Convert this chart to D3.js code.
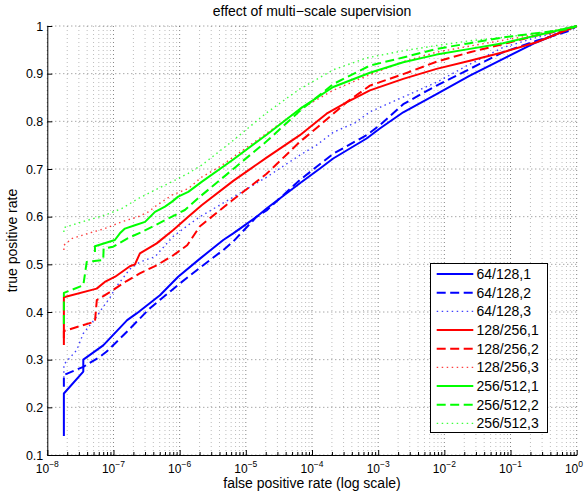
<!DOCTYPE html>
<html><head><meta charset="utf-8">
<script src="https://cdn.jsdelivr.net/npm/d3@7"></script>
<style>
body{margin:0;background:#fff}
svg{display:block}
text{font-family:"Liberation Sans",Arial,Helvetica,sans-serif;fill:#000}
</style>
</head><body><svg id="c" width="584" height="500"></svg>
<script>
// ---- data: [false positive rate, true positive rate] ----
const s64_128_1 = [[1.78e-8,0.14],[1.78e-8,0.229],[3.5e-8,0.275],[3.5e-8,0.30],[7.0e-8,0.33],[1.61e-7,0.383],[2.24e-7,0.397],[5.04e-7,0.435],[9.5e-7,0.474],[2.03e-6,0.512],[4.56e-6,0.551],[6.46e-6,0.565],[1.46e-5,0.60],[2.06e-5,0.617],[6.56e-5,0.670],[1.32e-4,0.701],[2.09e-4,0.722],[6.68e-4,0.764],[1.06e-3,0.785],[2.39e-3,0.819],[7.62e-3,0.857],[0.0243,0.896],[0.0773,0.931],[0.247,0.966],[1,1]];
const s64_128_2 = [[1.78e-8,0.243],[1.78e-8,0.268],[3.5e-8,0.285],[6.25e-8,0.306],[7.9e-8,0.317],[1.58e-7,0.358],[3.56e-7,0.408],[1.01e-6,0.46],[2.03e-6,0.493],[4.56e-6,0.53],[6.46e-6,0.548],[1.46e-5,0.60],[2.06e-5,0.613],[6.56e-5,0.677],[2.09e-4,0.732],[6.68e-4,0.771],[1.06e-3,0.792],[2.39e-3,0.836],[7.62e-3,0.875],[0.0243,0.910],[0.0773,0.945],[0.247,0.969],[0.789,0.990],[1,1]];
const s64_128_3 = [[1.78e-8,0.262],[1.78e-8,0.29],[2.78e-8,0.32],[3.5e-8,0.355],[5.57e-8,0.39],[7.0e-8,0.411],[8.85e-8,0.43],[1.1e-7,0.453],[1.77e-7,0.49],[2.51e-7,0.505],[4.24e-7,0.516],[7.9e-7,0.558],[1.43e-6,0.585],[2.03e-6,0.6],[6.46e-6,0.641],[2.06e-5,0.683],[6.56e-5,0.729],[1.17e-4,0.75],[2.09e-4,0.777],[4.5e-4,0.797],[7.5e-4,0.82],[2.39e-3,0.851],[7.62e-3,0.882],[0.0243,0.920],[0.0773,0.955],[0.247,0.976],[0.789,0.993],[1,1]];
const s128_256_1 = [[1.78e-8,0.331],[1.78e-8,0.431],[5.57e-8,0.449],[7.4e-8,0.463],[1.06e-7,0.474],[1.77e-7,0.496],[2.11e-7,0.5],[2.51e-7,0.523],[4.5e-7,0.544],[8e-7,0.572],[1.35e-6,0.6],[2.15e-6,0.624],[6.46e-6,0.675],[2.06e-5,0.724],[6.56e-5,0.771],[1.66e-4,0.816],[3.33e-4,0.84],[7.5e-4,0.865],[2.39e-3,0.889],[7.62e-3,0.910],[0.0243,0.927],[0.0773,0.945],[0.247,0.966],[1,1]];
const s128_256_2 = [[1.78e-8,0.345],[1.78e-8,0.36],[5.25e-8,0.38],[5.6e-8,0.425],[8.85e-8,0.442],[1.58e-7,0.465],[2.5e-7,0.481],[4.5e-7,0.498],[8e-7,0.519],[1.3e-6,0.54],[2.03e-6,0.58],[6.46e-6,0.636],[2.06e-5,0.69],[6.56e-5,0.757],[1.32e-4,0.792],[3.33e-4,0.84],[7.5e-4,0.875],[2.39e-3,0.899],[7.62e-3,0.925],[0.0243,0.945],[0.0773,0.962],[0.247,0.980],[0.789,0.994],[1,1]];
const s128_256_3 = [[1.78e-8,0.53],[1.78e-8,0.54],[2.34e-8,0.554],[4.16e-8,0.565],[7.4e-8,0.575],[1.32e-7,0.589],[2.37e-7,0.6],[3.36e-7,0.61],[4.24e-7,0.621],[7.6e-7,0.645],[1.35e-6,0.659],[2.1e-6,0.682],[4.06e-6,0.705],[6.46e-6,0.725],[2.06e-5,0.775],[6.56e-5,0.825],[2.09e-4,0.865],[7.5e-4,0.898],[2.39e-3,0.925],[7.62e-3,0.945],[0.0243,0.958],[0.0773,0.970],[0.247,0.982],[1,1]];
const s256_512_1 = [[5.25e-8,0.526],[5.25e-8,0.538],[1.05e-7,0.551],[1.25e-7,0.565],[1.49e-7,0.575],[2.11e-7,0.582],[3.0e-7,0.589],[4.24e-7,0.61],[6.0e-7,0.621],[7.6e-7,0.631],[9.5e-7,0.642],[1.35e-6,0.652],[2.15e-6,0.673],[6.46e-6,0.72],[2.06e-5,0.772],[6.56e-5,0.826],[2.09e-4,0.872],[7.5e-4,0.902],[2.39e-3,0.924],[7.62e-3,0.940],[0.0243,0.952],[0.0773,0.964],[0.247,0.980],[1,1]];
const s256_512_2 = [[1.78e-8,0.375],[1.78e-8,0.44],[3.5e-8,0.456],[3.94e-8,0.505],[7.0e-8,0.509],[7.1e-8,0.533],[9.9e-8,0.537],[1.66e-7,0.555],[2.6e-7,0.567],[4.4e-7,0.583],[7.66e-7,0.6],[1.2e-6,0.614],[2.03e-6,0.642],[6.46e-6,0.70],[2.06e-5,0.758],[6.56e-5,0.822],[2.09e-4,0.878],[7.5e-4,0.917],[2.39e-3,0.934],[7.62e-3,0.952],[0.0243,0.964],[0.0773,0.976],[0.247,0.985],[0.789,0.994],[1,1]];
const s256_512_3 = [[1.78e-8,0.568],[1.78e-8,0.577],[4.16e-8,0.593],[7.4e-8,0.603],[1.33e-7,0.617],[2.37e-7,0.638],[4.24e-7,0.656],[7.6e-7,0.673],[1.35e-6,0.691],[2.15e-6,0.708],[6.46e-6,0.76],[2.06e-5,0.818],[6.56e-5,0.868],[2.09e-4,0.908],[6.68e-4,0.933],[2.39e-3,0.948],[7.62e-3,0.959],[0.0243,0.969],[0.0773,0.976],[0.33,0.987],[1,1]];

const seriesNames = ["64/128,1","64/128,2","64/128,3","128/256,1","128/256,2","128/256,3","256/512,1","256/512,2","256/512,3"];
const seriesData = [s64_128_1,s64_128_2,s64_128_3,s128_256_1,s128_256_2,s128_256_3,s256_512_1,s256_512_2,s256_512_3];
const seriesColors = ["#0000ff","#0000ff","#0000ff","#ff0000","#ff0000","#ff0000","#00ff00","#00ff00","#00ff00"];
const seriesStyles = ["solid","dashed","dotted","solid","dashed","dotted","solid","dashed","dotted"];

const xTickExponents = ["−8","−7","−6","−5","−4","−3","−2","−1","0"];
const xTickValues = [1e-8,1e-7,1e-6,1e-5,1e-4,1e-3,1e-2,1e-1,1];
const yTickValues = [0.1,0.2,0.3,0.4,0.5,0.6,0.7,0.8,0.9,1];
const yTickLabels = ["0.1","0.2","0.3","0.4","0.5","0.6","0.7","0.8","0.9","1"];
const titleText = "effect of multi−scale supervision";
const xLabelText = "false positive rate (log scale)";
const yLabelText = "true positive rate";

// ---- drawing ----
const svg = d3.select("#c");
const L = 47.3, R = 576.7, T = 26, B = 455;
const x = d3.scaleLog().domain([1e-8, 1]).range([L, R]);
const y = d3.scaleLinear().domain([0.1, 1]).range([B, T]);

svg.append("rect").attr("width",584).attr("height",500).attr("fill","#fff");

const allX = x.ticks();
const minorX = allX.filter(v => !xTickValues.some(m => Math.abs(Math.log10(v) - Math.log10(m)) < 1e-6));

const grid = svg.append("g");
grid.selectAll("line.mx").data(minorX).join("line")
  .attr("x1", d => x(d)).attr("x2", d => x(d)).attr("y1", B).attr("y2", T)
  .attr("stroke", "#000").attr("stroke-opacity", 0.45).attr("stroke-width", 0.6)
  .attr("stroke-dasharray", "1,3");
grid.selectAll("line.Mx").data(xTickValues).join("line")
  .attr("x1", d => x(d)).attr("x2", d => x(d)).attr("y1", B).attr("y2", T)
  .attr("stroke", "#000").attr("stroke-opacity", 0.7).attr("stroke-width", 0.7)
  .attr("stroke-dasharray", "1,3");
grid.selectAll("line.My").data(yTickValues).join("line")
  .attr("x1", L).attr("x2", R).attr("y1", d => y(d)).attr("y2", d => y(d))
  .attr("stroke", "#000").attr("stroke-opacity", 0.7).attr("stroke-width", 0.7)
  .attr("stroke-dasharray", "1,3");

function dash(style){
  if (style === "dashed") return "9,4.5";
  if (style === "dotted") return "1.5,3.5";
  return null;
}

const line = d3.line().x(d => x(d[0])).y(d => y(d[1]));
const lines = svg.append("g");
seriesData.forEach((data, i) => {
  lines.append("path").datum(data)
    .attr("d", line)
    .attr("fill", "none")
    .attr("stroke", seriesColors[i])
    .attr("stroke-width", seriesStyles[i] === "dotted" ? 1.4 : 2)
    .attr("stroke-opacity", seriesStyles[i] === "dotted" ? 0.75 : 1)
    .attr("stroke-linejoin", "round")
    .attr("stroke-dasharray", dash(seriesStyles[i]));
});

// axes
const xAxisMajor = d3.axisBottom(x).tickValues(xTickValues).tickSizeInner(-5).tickSizeOuter(0).tickFormat("");
const xAxisMinor = d3.axisBottom(x).tickValues(minorX).tickSizeInner(-3).tickSizeOuter(0).tickFormat("");
const gx = svg.append("g").attr("transform", `translate(0,${B})`).call(xAxisMajor);
svg.append("g").attr("transform", `translate(0,${B})`).call(xAxisMinor).select(".domain").remove();
gx.select(".domain").attr("stroke","#000").attr("stroke-width",1);

const yAxis = d3.axisLeft(y).tickValues(yTickValues).tickSizeInner(-5).tickSizeOuter(0)
  .tickPadding(4).tickFormat((d, i) => yTickLabels[i]);
const gy = svg.append("g").attr("transform", `translate(${L},0)`).call(yAxis);
gy.selectAll("text").attr("font-size", 12.5).attr("font-family", '"Liberation Sans",Arial,sans-serif');
svg.selectAll(".tick line").attr("stroke","#000");

// x tick labels with superscripts
const xl = svg.append("g");
xTickValues.forEach((v, i) => {
  const last = i === xTickValues.length - 1;
  const t = xl.append("text")
    .attr("x", last ? 583 : x(v)).attr("y", 472.5)
    .attr("text-anchor", last ? "end" : "middle").attr("font-size", 12);
  t.append("tspan").text("10");
  t.append("tspan").attr("dy", -6).attr("font-size", 8.5).text(xTickExponents[i]);
});

// titles
svg.append("text").attr("x", (L + R) / 2).attr("y", 16).attr("text-anchor", "middle")
  .attr("font-size", 14).text(titleText);
svg.append("text").attr("x", (L + R) / 2).attr("y", 487.5).attr("text-anchor", "middle")
  .attr("font-size", 14).text(xLabelText);
svg.append("text").attr("transform", `translate(17,${(T + B) / 2}) rotate(-90)`).attr("text-anchor", "middle")
  .attr("font-size", 14).text(yLabelText);

// legend
const lg = svg.append("g");
lg.append("rect").attr("x", 430.5).attr("y", 263.5).attr("width", 117).attr("height", 169)
  .attr("fill", "#fff").attr("stroke", "#000").attr("stroke-width", 1);
seriesNames.forEach((name, i) => {
  const yy = 274 + i * 18.67;
  lg.append("line").attr("x1", 436.7).attr("x2", 473.3).attr("y1", yy).attr("y2", yy)
    .attr("stroke", seriesColors[i])
    .attr("stroke-width", seriesStyles[i] === "dotted" ? 1.4 : 2)
    .attr("stroke-opacity", seriesStyles[i] === "dotted" ? 0.75 : 1)
    .attr("stroke-dasharray", dash(seriesStyles[i]));
  lg.append("text").attr("x", 476.5).attr("y", yy).attr("dy", "0.36em").attr("font-size", 14).text(name);
});
</script>
</body></html>
